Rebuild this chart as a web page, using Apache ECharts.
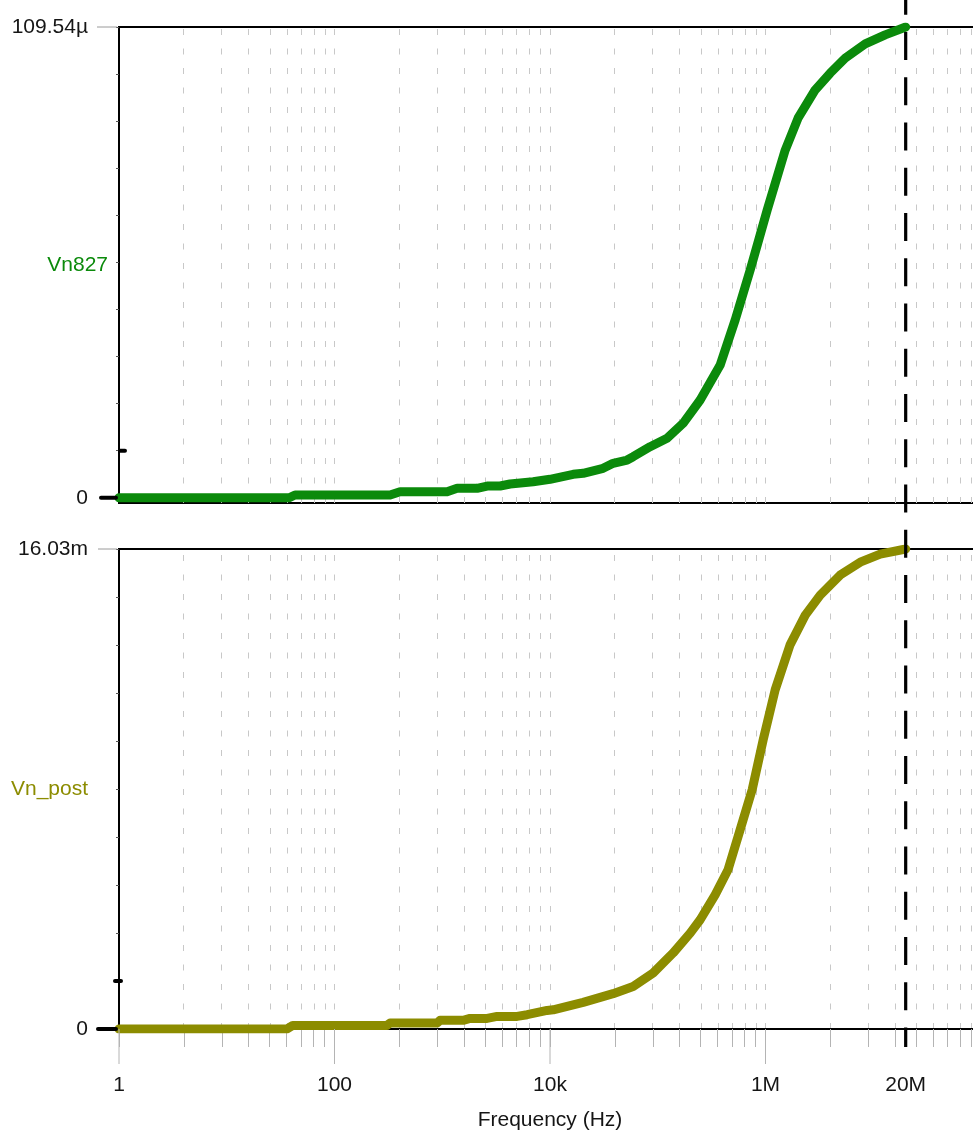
<!DOCTYPE html>
<html>
<head>
<meta charset="utf-8">
<script src="https://cdn.jsdelivr.net/npm/echarts@6/dist/echarts.min.js"></script>
<style>
  html, body { margin: 0; padding: 0; background: #fff; }
  #chart { width: 973px; height: 1133px; }
</style>
</head>
<body>
<div id="chart"></div>
<script>
// Sweep frequencies (Hz) and integrated output noise of net 827 (µV)
const freqVn827 = [1, 38, 43, 328, 406, 1109, 1374, 2106, 2609, 3443,
  4265, 6970, 10000, 16400, 20300, 31100, 38500, 52000, 59100, 85000,
  122000, 172000, 247600, 379700, 523000, 721000, 1.037e6, 1.524e6, 2.01e6, 2.89e6,
  3.98e6, 5.49e6, 8.42e6, 12.9e6, 20e6];
const vn827 = [0, 0, 0.63, 0.63, 1.40, 1.40, 2.19, 2.19, 2.72, 2.72,
  3.19, 3.72, 4.28, 5.45, 5.68, 6.84, 8.01, 8.77, 9.54, 11.87,
  13.82, 17.31, 22.74, 30.88, 41.35, 52.99, 66.95, 80.9, 88.4, 94.9,
  98.8, 102.3, 105.6, 107.7, 109.54];

// Sweep frequencies (Hz) and integrated noise after the post stage (mV)
const freqVnPost = [1, 36, 41, 307, 328, 896, 954, 1561, 1811, 2609,
  3228, 4951, 6133, 9400, 10700, 20300, 38500, 59100, 90600, 139000,
  200000, 247600, 341000, 449000, 582000, 752000, 952000, 1.23e6, 1.69e6, 2.34e6,
  3.22e6, 4.93e6, 7.57e6, 11.6e6, 20e6];
const vnPost = [0, 0, 0.12, 0.12, 0.20, 0.20, 0.29, 0.29, 0.354, 0.354,
  0.42, 0.42, 0.477, 0.62, 0.64, 0.89, 1.18, 1.42, 1.87, 2.54,
  3.20, 3.65, 4.48, 5.32, 6.66, 7.99, 9.66, 11.33, 12.83, 13.82,
  14.49, 15.16, 15.59, 15.86, 16.03];

// Frequency axis: major steps of two decades, labelled values
const majorFreqs = [1, 100, 1e4, 1e6];
const tickFreqs = [1, 100, 1e4, 1e6, 2e7];
const tickLabels = ['1', '100', '10k', '1M', '20M'];
const cursorFreq = 2e7;

// Y axis extremes and labels
const topMax = 109.54, topMaxLabel = '109.54µ';
const botMax = 16.03, botMaxLabel = '16.03m';
const seriesNames = ['Vn827', 'Vn_post'];

const GREEN = '#0b8a0b';
const OLIVE = '#8c8c00';
const FONT = '"Liberation Sans", Arial, Helvetica, sans-serif';
const TEXT = '#151515';

const lg = v => Math.log10(v);

// Minor divisions inside each two-decade step (at the 2..9 positions of the step)
const minorPos = [];
majorFreqs.forEach(m => {
  for (let k = 2; k <= 9; k++) minorPos.push(lg(m) + 2 * lg(k));
});
const gridPos = minorPos.concat(majorFreqs.slice(1).map(lg));
const xTickPos = [0].concat(gridPos);

const tenths = (max) => { const a = []; for (let i = 0; i <= 10; i++) a.push(max * i / 10); return a; };

const gridLines = {
  silent: true,
  z: 1,
  symbol: ['none', 'none'],
  label: { show: false },
  emphasis: { disabled: true },
  animation: false,
  lineStyle: { color: '#c8c8c8', width: 1, type: [6, 13.5] },
  data: gridPos.map(p => ({ xAxis: p }))
};

const chart = echarts.init(document.getElementById('chart'), null, { renderer: 'canvas' });

const gridBase = { left: 119, width: 862, show: true, borderColor: '#000', borderWidth: 2,
  backgroundColor: 'transparent', containLabel: false, outerBoundsMode: 'none' };

const option = {
  animation: false,
  backgroundColor: '#fff',
  textStyle: { fontFamily: FONT },
  grid: [
    Object.assign({ top: 27, height: 476 }, gridBase),
    Object.assign({ top: 549, height: 480 }, gridBase)
  ],
  xAxis: [
    {
      gridIndex: 0, type: 'value', min: 0, max: 8,
      axisLine: { show: false }, axisTick: { show: false },
      axisLabel: { show: false }, splitLine: { show: false }
    },
    {
      gridIndex: 1, type: 'value', min: 0, max: 8, z: 3,
      axisLine: { show: true, onZero: false, lineStyle: { color: '#000', width: 2 } },
      axisTick: { show: true, customValues: xTickPos, length: 18, lineStyle: { color: '#b4b4b4', width: 1 } },
      axisLabel: {
        customValues: tickFreqs.map(lg),
        margin: 46, fontSize: 21, color: TEXT, fontFamily: FONT,
        formatter: v => {
          const i = tickFreqs.findIndex(f => Math.abs(lg(f) - v) < 1e-6);
          return i >= 0 ? tickLabels[i] : '';
        }
      },
      splitLine: { show: false },
      name: 'Frequency (Hz)', nameLocation: 'middle', nameGap: 81, nameMoveOverlap: false,
      nameTextStyle: { fontSize: 21, color: TEXT, fontFamily: FONT }
    }
  ],
  yAxis: [
    {
      gridIndex: 0, type: 'value', min: -1.23, max: topMax,
      axisLine: { show: false },
      axisTick: { show: true, customValues: tenths(topMax), length: 3, lineStyle: { color: '#555', width: 1 } },
      axisLabel: {
        customValues: [0, topMax], margin: 31, fontSize: 21, color: TEXT, fontFamily: FONT,
        formatter: v => (v === 0 ? '0' : topMaxLabel)
      },
      splitLine: { show: false },
      name: seriesNames[0], nameLocation: 'middle', nameRotate: 0, nameGap: 11, nameMoveOverlap: false,
      nameTextStyle: { color: GREEN, fontSize: 21, fontFamily: FONT, padding: [4, 0, 0, 0] }
    },
    {
      gridIndex: 1, type: 'value', min: 0, max: botMax,
      axisLine: { show: false },
      axisTick: { show: true, customValues: tenths(botMax), length: 3, lineStyle: { color: '#555', width: 1 } },
      axisLabel: {
        customValues: [0, botMax], margin: 31, fontSize: 21, color: TEXT, fontFamily: FONT,
        formatter: v => (v === 0 ? '0' : botMaxLabel)
      },
      splitLine: { show: false },
      name: seriesNames[1], nameLocation: 'middle', nameRotate: 0, nameGap: 31, nameMoveOverlap: false,
      nameTextStyle: { color: OLIVE, fontSize: 21, fontFamily: FONT }
    }
  ],
  series: [
    {
      name: seriesNames[0], type: 'line', xAxisIndex: 0, yAxisIndex: 0,
      data: freqVn827.map((f, i) => [lg(f), vn827[i]]),
      showSymbol: false, symbol: 'none', smooth: false,
      lineStyle: { color: GREEN, width: 9, cap: 'round', join: 'round' },
      itemStyle: { color: GREEN },
      markLine: gridLines
    },
    {
      name: seriesNames[1], type: 'line', xAxisIndex: 1, yAxisIndex: 1,
      data: freqVnPost.map((f, i) => [lg(f), vnPost[i]]),
      showSymbol: false, symbol: 'none', smooth: false,
      lineStyle: { color: OLIVE, width: 9, cap: 'round', join: 'round' },
      itemStyle: { color: OLIVE },
      markLine: gridLines
    }
  ]
};

chart.setOption(option);

// Decorations placed through the axes: cursor, level markers, long major ticks
const P = (g, x, y) => chart.convertToPixel({ gridIndex: g }, [x, y]);
const g = [];
const line = (x1, y1, x2, y2, stroke, w, extra) => g.push(Object.assign({
  type: 'line', silent: true, z: 50,
  shape: { x1, y1, x2, y2 },
  style: Object.assign({ stroke, lineWidth: w, lineCap: 'round' }, extra || {})
}));

const [axX, top0] = P(0, 0, topMax);
const zeroTop = P(0, 0, 0)[1];
const tenthTop = P(0, 0, topMax / 10)[1];
const top1 = P(1, 0, botMax)[1];
const zeroBot = P(1, 0, 0)[1];
const tenthBot = P(1, 0, botMax / 10)[1];

// grey leader ticks next to the full-scale values
line(axX - 22, top0, axX - 2, top0, '#9a9a9a', 1, { lineCap: 'butt' });
line(axX - 21, top1, axX - 2, top1, '#9a9a9a', 1, { lineCap: 'butt' });
// zero-level markers
line(axX - 18, zeroTop, axX - 3, zeroTop, '#000', 4);
line(axX - 21, zeroBot, axX - 3, zeroBot, '#000', 4);
// 10 % markers
line(axX + 1, tenthTop, axX + 6, tenthTop, '#000', 4);
line(axX - 4, tenthBot, axX + 2, tenthBot, '#000', 4);
// long major ticks under the frequency axis
majorFreqs.forEach(f => {
  const x = P(1, lg(f), 0)[0];
  line(x, zeroBot, x, zeroBot + 35, '#b4b4b4', 1, { lineCap: 'butt' });
});
// cursor
const cx = P(1, lg(cursorFreq), 0)[0];
line(cx, top0 - 40.25, cx, zeroBot + 18, '#000', 3.2, { lineCap: 'butt', lineDash: [28, 17.25] });

chart.setOption({ graphic: g });
</script>
</body>
</html>
